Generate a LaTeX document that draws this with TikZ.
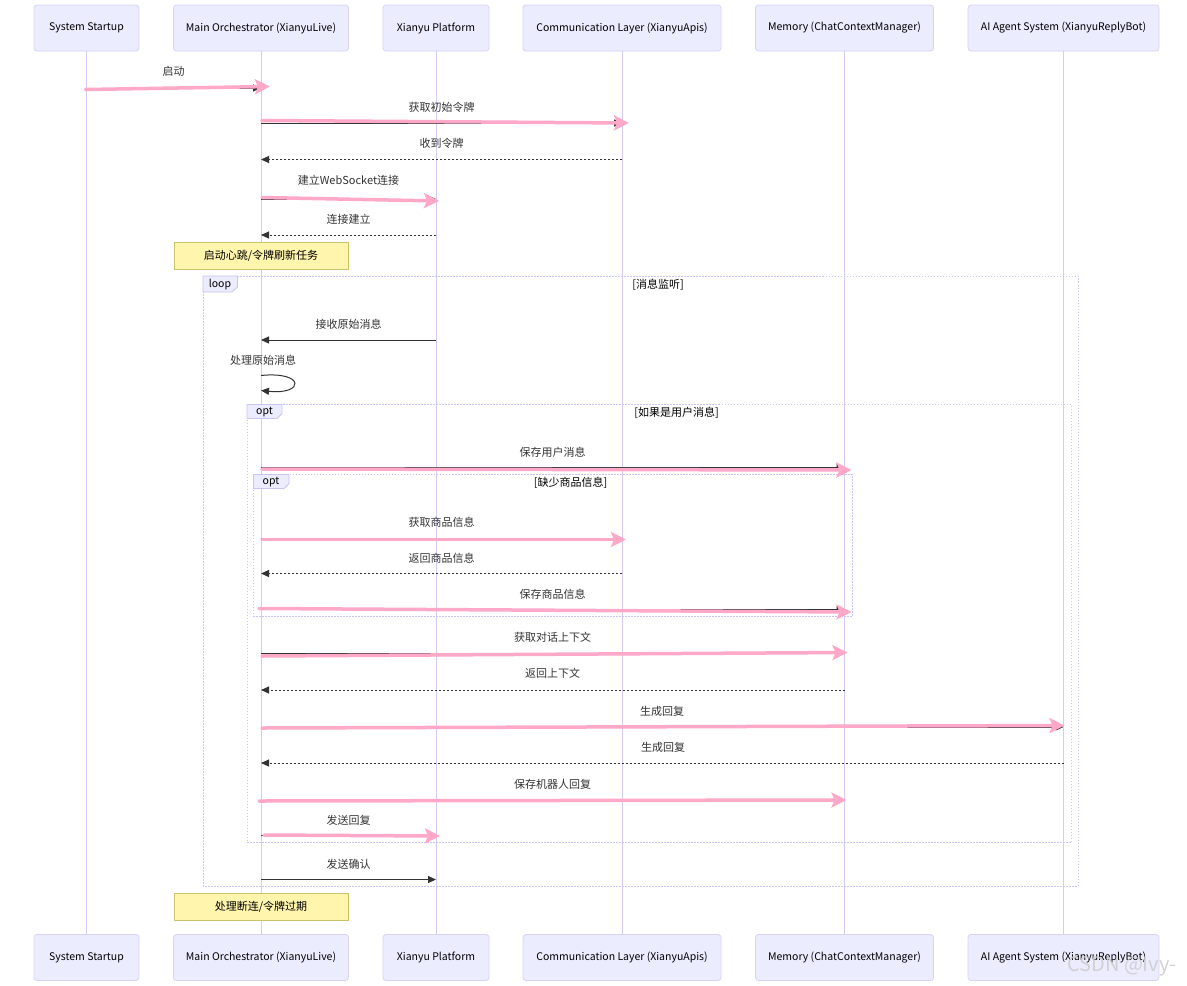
\documentclass[tikz,border=0pt]{standalone}
\usepackage{fontspec}
\setmainfont{Noto Sans CJK SC}
\usetikzlibrary{arrows.meta,calc}
\definecolor{actfill}{HTML}{ECECFF}
\definecolor{actborder}{HTML}{D9D2F7}
\definecolor{lifecol}{HTML}{D6CAF4}
\definecolor{msgcol}{HTML}{333333}
\definecolor{pinkc}{HTML}{FFA8C8}
\definecolor{notefill}{HTML}{FFF5AD}
\definecolor{noteborder}{HTML}{C9C46A}
\definecolor{framecol}{HTML}{CBC3F2}
\tikzset{
  actor/.style={draw=actborder, fill=actfill, rounded corners=3pt, minimum height=46pt,
    inner sep=0pt, font=\fontsize{10.5}{12}\selectfont, text=black, line width=0.8pt},
  lifeline/.style={draw=lifecol, line width=1pt},
  msg/.style={draw=msgcol, line width=1pt, -{Triangle[length=8pt,width=7pt]}},
  ret/.style={msg, dash pattern=on 2pt off 2pt},
  pinkarrow/.style={draw=pinkc, fill=pinkc, line width=3.5pt, line cap=round,
    -{Stealth[length=15pt,width=15pt,inset=3pt]}},
  lbl/.style={font=\fontsize{11}{13}\selectfont, text=msgcol, inner sep=0pt},
  framebox/.style={draw=framecol, line width=0.8pt, dash pattern=on 1.5pt off 1.5pt},
  tabbox/.style={fill=actfill, draw=framecol, line width=0.8pt},
  tablbl/.style={font=\fontsize{10.5}{12}\selectfont, text=black, inner sep=0pt},
  condlbl/.style={font=\fontsize{11}{13}\selectfont, text=black, inner sep=0pt},
  notebox/.style={draw=noteborder, fill=notefill, minimum width=174pt, minimum height=27pt,
    inner sep=0pt, font=\fontsize{11}{13}\selectfont, text=black, line width=0.8pt},
}
\begin{document}
\begin{tikzpicture}[x=1pt,y=-1pt]
\useasboundingbox[fill=white] (0,0) rectangle (1187,986);

% participants (top)
\node[actor, minimum width=105pt] (ss)  at (86.5,28)  {System Startup};
\node[actor, minimum width=175pt] (mo)  at (261,28)   {Main Orchestrator (XianyuLive)};
\node[actor, minimum width=106pt] (xp)  at (436,28)   {Xianyu Platform};
\node[actor, minimum width=198pt] (cl)  at (622,28)   {Communication Layer (XianyuApis)};
\node[actor, minimum width=178pt] (mem) at (844.5,28) {Memory (ChatContextManager)};
\node[actor, minimum width=191pt] (ai)  at (1063.5,28) {AI Agent System (XianyuReplyBot)};
% participants (bottom)
\node[actor, minimum width=105pt] (ssb)  at (86.5,957.5)  {System Startup};
\node[actor, minimum width=175pt] (mob)  at (261,957.5)   {Main Orchestrator (XianyuLive)};
\node[actor, minimum width=106pt] (xpb)  at (436,957.5)   {Xianyu Platform};
\node[actor, minimum width=198pt] (clb)  at (622,957.5)   {Communication Layer (XianyuApis)};
\node[actor, minimum width=178pt] (memb) at (844.5,957.5) {Memory (ChatContextManager)};
\node[actor, minimum width=191pt] (aib)  at (1063.5,957.5) {AI Agent System (XianyuReplyBot)};

% lifelines
\draw[lifeline] (ss.south) -- (ssb.north);
\draw[lifeline] (mo.south) -- (mob.north);
\draw[lifeline] (xp.south) -- (xpb.north);
\draw[lifeline] (cl.south) -- (clb.north);
\draw[lifeline] (mem.south) -- (memb.north);
\draw[lifeline] (ai.south) -- (aib.north);

% frames
\draw[framebox] (203,276) rectangle (1078,886);
\draw[tabbox] (203,276) -- (237.5,276) -- (237.5,287) -- (232,292) -- (203,292) -- cycle;
\node[tablbl] (looplbl) at (220,285) {loop};
\node[condlbl] (loopcond) at (658,285) {[消息监听]};

\draw[framebox] (247,404.5) rectangle (1071.5,842.5);
\draw[tabbox] (247,404.5) -- (282,404.5) -- (282,413.5) -- (277,418.5) -- (247,418.5) -- cycle;
\node[tablbl] (opt1lbl) at (264.5,412) {opt};
\node[condlbl] (opt1cond) at (676.5,412.5) {[如果是用户消息]};

\draw[framebox] (253.5,474.5) rectangle (852.5,616);
\draw[tabbox] (253.5,474.5) -- (289,474.5) -- (289,483.5) -- (284,488.5) -- (253.5,488.5) -- cycle;
\node[tablbl] (opt2lbl) at (271,482) {opt};
\node[condlbl] (opt2cond) at (570.5,482.5) {[缺少商品信息]};

% notes
\node[notebox] (note1) at (261,256) {启动心跳/令牌刷新任务};
\node[notebox] (note2) at (261,906.5) {处理断连/令牌过期};

% messages
\node[lbl] (m1) at (173.5,71) {启动};
\draw[msg] (ss |- 0,88) -- (mo |- 0,88);
\draw[pinkarrow] ($(ss |- 0,89.5)+(-1,0)$) -- ($(mo |- 0,86.5)+(9,0)$);

\node[lbl] (m2) at (441.5,107) {获取初始令牌};
\draw[msg] (mo |- 0,123) -- (cl |- 0,123);
\draw[pinkarrow] ($(mo |- 0,120.5)+(1,0)$) -- ($(cl |- 0,123)+(7,0)$);

\node[lbl] (m3) at (441.5,143.5) {收到令牌};
\draw[ret] (cl |- 0,159.5) -- (mo |- 0,159.5);

\node[lbl] (m4) at (348.5,180) {建立WebSocket连接};
\draw[msg] (mo |- 0,199) -- (xp |- 0,199);
\draw[pinkarrow] ($(mo |- 0,197.5)+(1,0)$) -- ($(xp |- 0,201)+(3,0)$);

\node[lbl] (m5) at (348.5,219.5) {连接建立};
\draw[ret] (xp |- 0,235) -- (mo |- 0,235);

\node[lbl] (m6) at (348.5,324) {接收原始消息};
\draw[msg] (xp |- 0,340) -- (mo |- 0,340);

\node[lbl] (m7) at (263,360.5) {处理原始消息};
\draw[msg] (mo |- 0,375.5) .. controls (305,371) and (305,395) .. (mo |- 0,390.5);

\node[lbl] (m8) at (552.5,452) {保存用户消息};
\draw[msg] (mo |- 0,467) -- (mem |- 0,467);
\draw[pinkarrow] ($(mo |- 0,469)+(1,0)$) -- ($(mem |- 0,470)+(7,0)$);

\node[lbl] (m9) at (441.5,522) {获取商品信息};
\draw[msg] (mo |- 0,538) -- (cl |- 0,538);
\draw[pinkarrow] ($(mo |- 0,539.5)+(1,0)$) -- ($(cl |- 0,539.5)+(4,0)$);

\node[lbl] (m10) at (441.5,558) {返回商品信息};
\draw[ret] (cl |- 0,573.5) -- (mo |- 0,573.5);

\node[lbl] (m11) at (552.5,594.5) {保存商品信息};
\draw[msg] (mo |- 0,609.5) -- (mem |- 0,609.5);
\draw[pinkarrow] ($(mo |- 0,608.5)+(-2,0)$) -- ($(mem |- 0,612)+(7,0)$);

\node[lbl] (m12) at (552.5,637.5) {获取对话上下文};
\draw[msg] (mo |- 0,653.5) -- (mem |- 0,653.5);
\draw[pinkarrow] ($(mo |- 0,656)+(1,0)$) -- ($(mem |- 0,652.5)+(3,0)$);

\node[lbl] (m13) at (552.5,673.5) {返回上下文};
\draw[ret] (mem |- 0,690) -- (mo |- 0,690);

\node[lbl] (m14) at (662,711) {生成回复};
\draw[msg] (mo |- 0,727) -- (ai |- 0,727);
\draw[pinkarrow] ($(mo |- 0,728)+(1,0)$) -- ($(ai |- 0,725.5)+(1,0)$);

\node[lbl] (m15) at (663,747) {生成回复};
\draw[ret] (ai |- 0,763) -- (mo |- 0,763);

\node[lbl] (m16) at (552.5,784) {保存机器人回复};
\draw[msg] (mo |- 0,800) -- (mem |- 0,800);
\draw[pinkarrow] ($(mo |- 0,801)+(-2,0)$) -- ($(mem |- 0,800)+(2,0)$);

\node[lbl] (m17) at (348.5,820) {发送回复};
\draw[msg] (mo |- 0,835.5) -- (xp |- 0,835.5);
\draw[pinkarrow] ($(mo |- 0,835)+(3,0)$) -- ($(xp |- 0,836)+(4,0)$);

\node[lbl] (m18) at (348.5,864) {发送确认};
\draw[msg] (mo |- 0,879.5) -- (xp |- 0,879.5);

% watermark
\node[anchor=west, font=\fontsize{20}{22}\selectfont, text=gray!40, inner sep=0pt, opacity=0.85] (wm) at (1067,966) {CSDN @Ivy-};
\end{tikzpicture}
\end{document}
